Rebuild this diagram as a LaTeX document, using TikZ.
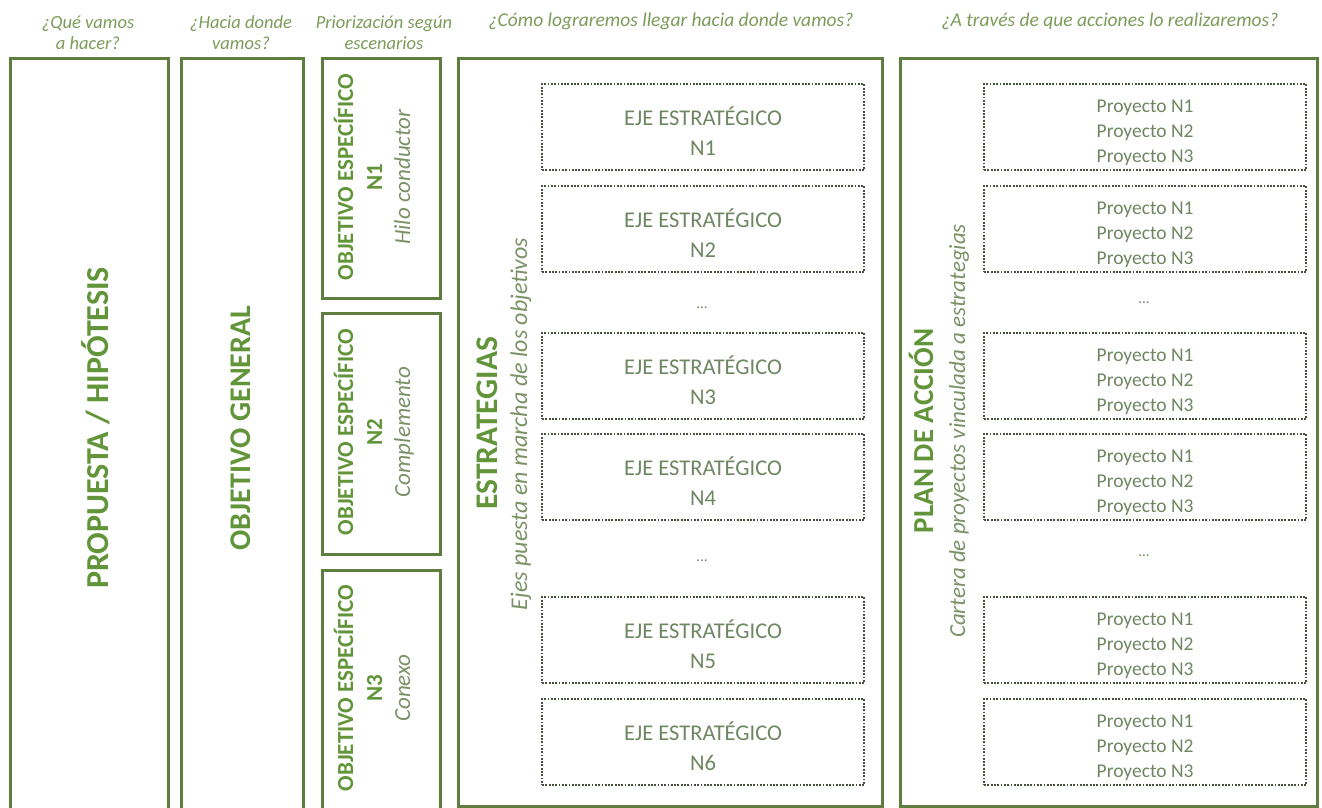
\documentclass[tikz,border=0pt]{standalone}
\usepackage{fontspec}
\setmainfont{Carlito}
\definecolor{framec}{HTML}{5F7D3E}
\definecolor{titlec}{HTML}{62953A}
\definecolor{subc}{HTML}{7A9266}
\definecolor{ejec}{HTML}{6E8762}
\definecolor{headc}{HTML}{7C9C5A}
\definecolor{dotc}{HTML}{465040}
\newcommand{\padtop}[1]{\rule{0pt}{#1}}
\begin{document}
\begin{tikzpicture}[x=1pt,y=-1pt,
  colbox/.style={draw=framec, line width=2.6pt, anchor=north west, inner sep=0pt},
  dotbox/.style={draw=dotc, line width=2.2pt, dash pattern=on 1.8pt off 1.5pt,
     anchor=north west, minimum width=322pt, minimum height=86pt, inner sep=0pt,
     align=center, text=ejec},
  ejebox/.style={dotbox, font=\fontsize{22.5}{30}\selectfont},
  projbox/.style={dotbox, font=\fontsize{19.5}{25}\selectfont},
  ellip/.style={text=ejec, font=\fontsize{15}{18}\selectfont, anchor=base, inner sep=0pt},
  bigtitle/.style={rotate=90, anchor=base, inner sep=0pt, text=titlec},
  colsub/.style={rotate=90, anchor=base, inner sep=0pt, text=subc},
  objline/.style={rotate=90, anchor=base, inner sep=0pt, text=titlec, font=\bfseries\fontsize{23}{28}\selectfont},
  objsub/.style={rotate=90, anchor=base, inner sep=0pt, text=subc, font=\itshape\fontsize{23}{28}\selectfont},
  headl/.style={align=center, text=headc, inner sep=0pt, font=\itshape\fontsize{18.5}{21}\selectfont},
  headr/.style={anchor=base, text=headc, inner sep=0pt, font=\itshape\fontsize{19.5}{24}\selectfont}
]
\useasboundingbox (0,0) rectangle (1322,807);
\clip (0,0) rectangle (1322,807);
\fill[white] (0,0) rectangle (1322,807);

% headers
\node[headl] (h1) at (88,33) {¿Qué vamos\\a hacer?};
\node[headl] (h2) at (241,33) {¿Hacia donde\\vamos?};
\node[headl] (h3) at (384,33) {Priorización según\\escenarios};
\node[headr] (h4) at (671,26) {¿Cómo lograremos llegar hacia donde vamos?};
\node[headr] (h5) at (1110,26) {¿A través de que acciones lo realizaremos?};

% column frames
\node[colbox, minimum width=158pt, minimum height=770pt] (c1) at (9,57) {};
\node[colbox, minimum width=122pt, minimum height=770pt] (c2) at (180,57) {};
\node[colbox, minimum width=118pt, minimum height=240pt] (o1) at (321,57) {};
\node[colbox, minimum width=118pt, minimum height=241pt] (o2) at (321,312) {};
\node[colbox, minimum width=118pt, minimum height=260pt] (o3) at (321,569) {};
\node[colbox, minimum width=424pt, minimum height=748pt] (c4) at (457,57) {};
\node[colbox, minimum width=417pt, minimum height=748pt] (c5) at (899,57) {};

% column titles
\node[bigtitle, font=\bfseries\fontsize{32}{38}\selectfont] (t1) at (108,428) {PROPUESTA / HIPÓTESIS};
\node[bigtitle, font=\bfseries\fontsize{30}{36}\selectfont] (t2) at (250,428) {OBJETIVO GENERAL};

% objetivos especificos
\node[objline] (o1a) at (353,177) {OBJETIVO ESPECÍFICO};
\node[objline] (o1b) at (382,177) {N1};
\node[objsub]  (o1c) at (410,177) {Hilo conductor};
\node[objline] (o2a) at (353,432) {OBJETIVO ESPECÍFICO};
\node[objline] (o2b) at (382,432) {N2};
\node[objsub]  (o2c) at (410,432) {Complemento};
\node[objline] (o3a) at (353,688) {OBJETIVO ESPECÍFICO};
\node[objline] (o3b) at (382,688) {N3};
\node[objsub]  (o3c) at (410,688) {Conexo};

% estrategias
\node[bigtitle, font=\bfseries\fontsize{31.5}{36}\selectfont] (estT) at (497,423) {ESTRATEGIAS};
\node[colsub, font=\itshape\fontsize{24}{28}\selectfont] (estS) at (527,424) {Ejes puesta en marcha de los objetivos};
\node[ejebox] (e1) at (541,83)  {\padtop{27pt}EJE ESTRATÉGICO\\N1};
\node[ejebox] (e2) at (541,185) {\padtop{27pt}EJE ESTRATÉGICO\\N2};
\node[ellip] (ed1) at (702,308) {...};
\node[ejebox] (e3) at (541,332) {\padtop{27pt}EJE ESTRATÉGICO\\N3};
\node[ejebox] (e4) at (541,433) {\padtop{27pt}EJE ESTRATÉGICO\\N4};
\node[ellip] (ed2) at (702,561) {...};
\node[ejebox] (e5) at (541,596) {\padtop{27pt}EJE ESTRATÉGICO\\N5};
\node[ejebox] (e6) at (541,698) {\padtop{27pt}EJE ESTRATÉGICO\\N6};

% plan de accion
\node[bigtitle, font=\bfseries\fontsize{29}{35}\selectfont] (planT) at (933,431) {PLAN DE ACCIÓN};
\node[colsub, font=\itshape\fontsize{23}{28}\selectfont] (planS) at (965,431) {Cartera de proyectos vinculada a estrategias};
\node[projbox] (p1) at (983,83)  {\padtop{23pt}Proyecto N1\\Proyecto N2\\Proyecto N3};
\node[projbox] (p2) at (983,185) {\padtop{23pt}Proyecto N1\\Proyecto N2\\Proyecto N3};
\node[ellip] (pd1) at (1144,303) {...};
\node[projbox] (p3) at (983,332) {\padtop{23pt}Proyecto N1\\Proyecto N2\\Proyecto N3};
\node[projbox] (p4) at (983,433) {\padtop{23pt}Proyecto N1\\Proyecto N2\\Proyecto N3};
\node[ellip] (pd2) at (1144,556) {...};
\node[projbox] (p5) at (983,596) {\padtop{23pt}Proyecto N1\\Proyecto N2\\Proyecto N3};
\node[projbox] (p6) at (983,698) {\padtop{23pt}Proyecto N1\\Proyecto N2\\Proyecto N3};
\end{tikzpicture}
\end{document}
